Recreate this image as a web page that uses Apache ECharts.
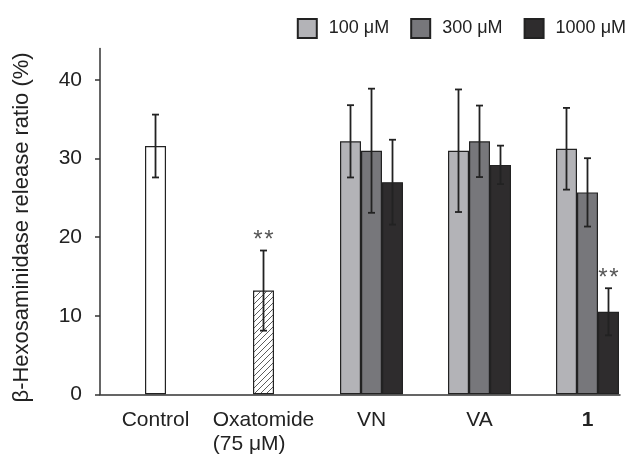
<!DOCTYPE html>
<html>
<head>
<meta charset="utf-8">
<script src="https://cdn.jsdelivr.net/npm/echarts@6/dist/echarts.min.js"></script>
<style>html,body{margin:0;padding:0;background:#fff}#c{width:638px;height:462px}</style>
</head>
<body>
<div id="c"></div>
<script>
// ---- data ----
const categories = ['Control', 'Oxatomide\n(75 μM)', 'VN', 'VA', '1'];
const categoryPos = [1, 2, 3, 4, 5];
const controlMean = [31.6];
const controlErr = [4.0];
const oxatomideMean = [13.2];
const oxatomideErr = [5.1];
const groupPos = [3, 4, 5]; // VN, VA, 1
const mean100 = [32.2, 31.0, 31.25];
const err100 = [4.6, 7.8, 5.2];
const mean300 = [31.0, 32.2, 25.7];
const err300 = [7.9, 4.55, 4.35];
const mean1000 = [27.0, 29.2, 10.5];
const err1000 = [5.4, 2.45, 3.0];
const sig1000 = [0, 0, 1];
const oxatomideSig = [1];
const seriesNames = ['100 μM', '300 μM', '1000 μM'];
const yTicks = [0, 10, 20, 30, 40];

// ---- styles ----
const FONT = 'Liberation Sans, Arial, sans-serif';
const colors = ['#b3b3b7', '#77777b', '#2e2c2d'];
const border = '#222';
const BW = 21;

// hatch pattern for Oxatomide
const hatch = document.createElement('canvas');
hatch.width = 6; hatch.height = 6;
(function () {
  const g = hatch.getContext('2d');
  g.fillStyle = '#fff'; g.fillRect(0, 0, 6, 6);
  g.strokeStyle = '#333'; g.lineWidth = 0.8;
  g.beginPath();
  g.moveTo(-1, 7); g.lineTo(7, -1);
  g.moveTo(-1, 1); g.lineTo(1, -1);
  g.moveTo(5, 7); g.lineTo(7, 5);
  g.stroke();
})();

const errData = [];
errData.push([categoryPos[0], controlMean[0], controlErr[0], 0, 0]);
errData.push([categoryPos[1], oxatomideMean[0], oxatomideErr[0], 0, oxatomideSig[0]]);
groupPos.forEach((p, i) => {
  errData.push([p, mean100[i], err100[i], -BW, 0]);
  errData.push([p, mean300[i], err300[i], 0, 0]);
  errData.push([p, mean1000[i], err1000[i], BW, sig1000[i]]);
});

const chart = echarts.init(document.getElementById('c'), null, {renderer: 'canvas'});
const option = {
  animation: false,
  backgroundColor: '#fff',
  textStyle: {fontFamily: FONT},
  legend: {
    data: seriesNames,
    right: 7, top: 13,
    itemWidth: 19, itemHeight: 19, itemGap: 21,
    icon: 'rect',
    textStyle: {fontSize: 18, color: '#222', fontFamily: FONT, padding: [0, 0, 0, 7]}
  },
  grid: {left: 100, right: 18, top: 48.6, bottom: 67.7, containLabel: false},
  xAxis: {
    type: 'value', min: 0.486, max: 5.301,
    axisLine: {show: true, onZero: false, lineStyle: {color: '#333', width: 1.5}},
    axisTick: {show: false},
    splitLine: {show: false},
    axisLabel: {
      customValues: categoryPos,
      margin: 14,
      formatter: v => {
        const t = categories[Math.round(v) - 1];
        if (t === '1') return '{b|1}';
        return t.split('\n').map(s => '{a|' + s + '}').join('\n');
      },
      rich: {
        a: {align: 'left', fontSize: 21, lineHeight: 24, color: '#222', fontFamily: FONT},
        b: {fontSize: 21, lineHeight: 24, fontWeight: 'bold', color: '#222', fontFamily: FONT}
      }
    }
  },
  yAxis: {
    type: 'value', min: 0, max: 44, interval: 10,
    name: 'β-Hexosaminidase release ratio (%)',
    nameLocation: 'middle', nameGap: 67,
    nameTextStyle: {fontSize: 22, color: '#222', fontFamily: FONT, padding: [0, 12, 0, 0]},
    axisLine: {show: true, lineStyle: {color: '#333', width: 1.5}},
    axisTick: {show: true, customValues: yTicks, length: 5, lineStyle: {color: '#333', width: 1.5}},
    axisLabel: {customValues: yTicks, fontSize: 21, color: '#222', margin: 18, fontFamily: FONT},
    splitLine: {show: false}
  },
  series: [
    {
      name: seriesNames[0], type: 'bar', barWidth: BW, barGap: 0,
      itemStyle: {color: colors[0], borderColor: border, borderWidth: 1.2},
      data: groupPos.map((p, i) => [p, mean100[i]])
    },
    {
      name: seriesNames[1], type: 'bar', barWidth: BW, barGap: 0, stack: 'mid',
      itemStyle: {color: colors[1], borderColor: border, borderWidth: 1.2},
      data: groupPos.map((p, i) => [p, mean300[i]])
    },
    {
      name: 'Control', type: 'bar', barWidth: BW, barGap: 0, stack: 'mid',
      itemStyle: {color: '#fff', borderColor: border, borderWidth: 1.2},
      data: [[categoryPos[0], controlMean[0]]]
    },
    {
      name: 'Oxatomide', type: 'bar', barWidth: BW, barGap: 0, stack: 'mid',
      itemStyle: {color: {image: hatch, repeat: 'repeat'}, borderColor: border, borderWidth: 1.2},
      data: [[categoryPos[1], oxatomideMean[0]]]
    },
    {
      name: seriesNames[2], type: 'bar', barWidth: BW, barGap: 0,
      itemStyle: {color: colors[2], borderColor: border, borderWidth: 1.2},
      data: groupPos.map((p, i) => [p, mean1000[i]])
    },
    {
      name: 'err', type: 'custom', z: 10,
      data: errData,
      encode: {x: 0, y: 1},
      renderItem: (params, api) => {
        const x = api.value(0), m = api.value(1), e = api.value(2), off = api.value(3), sig = api.value(4);
        const top = api.coord([x, m + e]);
        const bot = api.coord([x, m - e]);
        const cx = top[0] + off;
        const st = {stroke: '#222', lineWidth: 1.8};
        const ch = [
          {type: 'line', shape: {x1: cx, y1: top[1], x2: cx, y2: bot[1]}, style: st},
          {type: 'line', shape: {x1: cx - 3.5, y1: top[1], x2: cx + 3.5, y2: top[1]}, style: st},
          {type: 'line', shape: {x1: cx - 3.5, y1: bot[1], x2: cx + 3.5, y2: bot[1]}, style: st}
        ];
        if (sig) {
          [-5.5, 5.5].forEach(dx => {
            ch.push({type: 'text', style: {text: '*', x: cx + dx, y: top[1] + 2, align: 'center', verticalAlign: 'bottom', fontSize: 24, fill: '#555', fontFamily: FONT}});
          });
        }
        return {type: 'group', children: ch};
      }
    }
  ]
};
chart.setOption(option);
</script>
</body>
</html>
